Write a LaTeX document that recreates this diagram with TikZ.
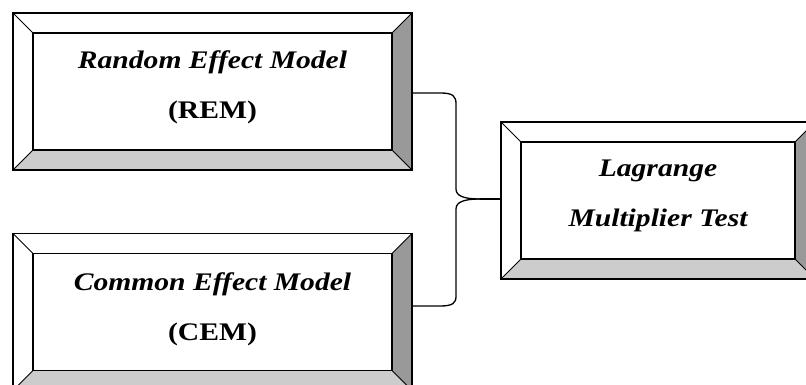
\documentclass[tikz,border=0pt]{standalone}
\usepackage{fontspec}
\setmainfont{Liberation Serif}
\newfontfamily\boxfont[FakeStretch=1.17]{Liberation Serif}
\usetikzlibrary{calc}
\tikzset{
  bevelbox/.style={draw=black, line width=1.6pt, minimum width=#1, minimum height=157pt,
    inner sep=0pt, fill=white,
    path picture={
      \coordinate (o1) at (path picture bounding box.north west);
      \coordinate (o2) at (path picture bounding box.north east);
      \coordinate (o3) at (path picture bounding box.south east);
      \coordinate (o4) at (path picture bounding box.south west);
      \coordinate (i1) at ($(o1)+(20pt,-20pt)$);
      \coordinate (i2) at ($(o2)+(-20pt,-20pt)$);
      \coordinate (i3) at ($(o3)+(-20pt,20pt)$);
      \coordinate (i4) at ($(o4)+(20pt,20pt)$);
      \fill[black!20] (o4) -- (i4) -- (i3) -- (o3) -- cycle;
      \fill[black!40] (o2) -- (o3) -- (i3) -- (i2) -- cycle;
      \draw[line width=0.8pt] (o1) -- (i1) (o2) -- (i2) (o3) -- (i3) (o4) -- (i4);
      \draw[line width=1.6pt] (i1) rectangle (i3);
    }},
  boxtext/.style={font=\boxfont\bfseries\itshape\fontsize{25.3}{50}\selectfont, align=center, yshift=#1},
  boxtext/.default=4.5pt,
  conn/.style={draw=black, line width=1.3pt},
}
\begin{document}
\begin{tikzpicture}[x=1pt,y=-1pt]
\useasboundingbox (0,0) rectangle (806,385);
\node[bevelbox=399pt, label={[boxtext, name=remtext]center:{Random Effect Model\\\upshape(REM)}}] (rem) at (212.5,91.5) {};
\node[bevelbox=399pt, label={[boxtext=3pt, name=cemtext]center:{Common Effect Model\\\upshape(CEM)}}] (cem) at (212.5,312) {};
\node[bevelbox=314pt, label={[boxtext, name=lmttext]center:{Lagrange\\Multiplier Test}}] (lmt) at (658,200.5) {};
\coordinate (tip) at (480,199);
\draw[conn] ($(rem.east)+(0,1.5)$) -- (440,93) .. controls (453,93) and (456,96) .. (456,104)
  -- (456,189) .. controls (456,196) and (464,199) .. (tip);
\draw[conn] ($(cem.east)+(0,-6)$) -- (440,306) .. controls (453,306) and (456,303) .. (456,296)
  -- (456,209) .. controls (456,202) and (464,199) .. (tip);
\draw[conn] (tip) -- (lmt.west |- tip);
\end{tikzpicture}
\end{document}
